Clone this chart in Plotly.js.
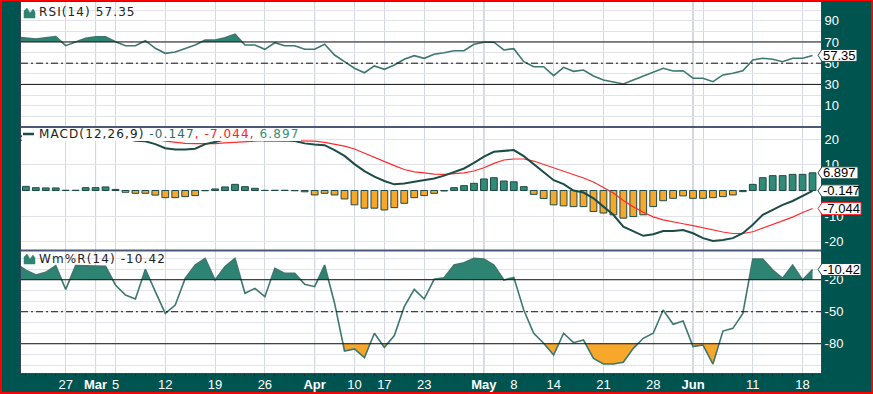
<!DOCTYPE html>
<html><head><meta charset="utf-8">
<script src="https://cdn.plot.ly/plotly-3.0.1.min.js"></script>
<style>
html,body{margin:0;padding:0;background:#005450;}
#wrap{position:relative;width:873px;height:394px;overflow:hidden;}
#chart{position:absolute;left:0;top:0;width:873px;height:394px;}
#frame{position:absolute;left:0;top:0;width:873px;height:394px;box-sizing:border-box;border:2px solid #ff0000;border-top-width:1px;pointer-events:none;}
text.annotation-text[style*="DejaVu"]{letter-spacing:1.1px;}
</style></head>
<body><div id="wrap"><div id="chart"></div><div id="frame"></div></div>
<script>
// ---------- data ----------
const dates = ["2012-02-20","2012-02-21","2012-02-22","2012-02-23","2012-02-24",
"2012-02-27","2012-02-28","2012-02-29","2012-03-01","2012-03-02",
"2012-03-05","2012-03-06","2012-03-07","2012-03-08","2012-03-09",
"2012-03-12","2012-03-13","2012-03-14","2012-03-15","2012-03-16",
"2012-03-19","2012-03-20","2012-03-21","2012-03-22","2012-03-23",
"2012-03-26","2012-03-27","2012-03-28","2012-03-29","2012-03-30",
"2012-04-02","2012-04-03","2012-04-04","2012-04-05",
"2012-04-10","2012-04-11","2012-04-12",
"2012-04-17","2012-04-18","2012-04-19","2012-04-20",
"2012-04-23","2012-04-24","2012-04-25","2012-04-26","2012-04-27",
"2012-04-30","2012-05-01","2012-05-02","2012-05-03",
"2012-05-08","2012-05-09","2012-05-10","2012-05-11",
"2012-05-14","2012-05-15","2012-05-16","2012-05-17","2012-05-18",
"2012-05-21","2012-05-22","2012-05-23","2012-05-24","2012-05-25",
"2012-05-28","2012-05-29","2012-05-30","2012-05-31","2012-06-01",
"2012-06-04","2012-06-05","2012-06-06","2012-06-07","2012-06-08",
"2012-06-11","2012-06-12","2012-06-13","2012-06-14","2012-06-15",
"2012-06-18","2012-06-19"];

const rsi = [74.5,73.8,72.8,74,75,66.5,70.3,73.5,75,75,
70.3,66.5,66.5,71.2,64,59.3,60.6,63.7,67.2,71.9,
71.9,74,77.3,67.2,67.2,63.1,69.3,66.5,66.5,63.1,
63.1,67.8,57.7,51.4,45.2,41,47.4,44.2,48.3,53.7,
57.1,54.6,58.4,59.9,61.8,61.8,67.8,69.8,69.8,62.5,
63.7,51.4,46.7,46.7,38.2,46.1,42.3,43.6,37.9,34.2,
32.6,30.4,34.2,37.9,41,45.2,42.6,42.9,35.8,35.8,
32.6,38.9,40.5,42.9,53,54.6,53.7,51.4,54.6,54.6,57.35];

const macd = [21.1,21.2,20.9,20.9,21.1,20.3,20.3,21.4,21.6,22.1,
21.2,20.0,19.4,19.2,18.1,16.5,16.0,16.0,16.3,18.1,
18.9,20.0,21.3,20.7,20.25,19.5,19.6,19.6,19.3,18.4,
18.0,17.7,15.8,13.5,10.3,7.6,5.4,3.7,2.4,2.7,
3.4,4.1,4.7,5.8,7.3,8.6,10.8,13.2,15.1,15.5,
15.8,13.4,10.2,7.3,4.0,2.5,0.0,-0.8,-3.05,-6.3,
-9.5,-14.1,-16.0,-17.7,-17.1,-15.8,-15.8,-15.4,-16.7,-18.6,
-19.7,-19.3,-18.6,-16.7,-13.4,-9.5,-7.6,-5.6,-4.1,-2.1,-0.147];

const signal = [19.5,19.6,19.8,19.9,20.1,20.2,20.2,20.3,20.5,20.7,
20.8,20.7,20.5,20.3,19.9,19.3,18.8,18.4,18.3,18.2,
18.3,18.6,18.9,19.2,19.4,19.5,19.5,19.5,19.4,19.3,
19.3,18.8,18.0,17.3,16.2,14.5,12.8,11.2,9.7,8.2,
7.3,6.9,6.4,6.3,6.6,6.9,7.6,8.9,10.6,11.9,
12.3,12.3,11.5,10.2,9.0,7.6,6.1,4.9,3.3,1.0,
-1.0,-3.9,-6.4,-8.5,-10.3,-11.5,-12.4,-13.0,-13.7,-14.5,
-15.5,-16.2,-16.8,-16.8,-16.1,-14.7,-13.4,-11.8,-10.4,-8.6,-7.044];

const hist = [1.6,1.6,1.1,1.0,1.0,0.1,0.1,1.1,1.1,1.4,
0.4,-0.7,-1.1,-1.1,-1.8,-2.8,-2.8,-2.4,-2.0,-0.1,
0.6,1.4,2.4,1.5,0.85,0.05,0.1,0.1,-0.1,-0.5,
-1.75,-1.1,-1.75,-3.3,-5.6,-6.9,-6.9,-7.6,-6.7,-5.0,
-2.8,-2.0,-1.1,-0.2,1.1,1.9,2.8,4.5,5.0,3.7,
3.4,1.5,-1.5,-3.1,-5.6,-6.0,-6.3,-6.3,-8.2,-8.8,
-9.5,-10.8,-10.2,-9.5,-6.3,-4.0,-3.05,-2.1,-3.05,-3.05,
-2.8,-2.4,-1.75,-0.45,2.4,5.0,5.8,5.8,6.3,6.3,6.897];

const willr = [-5,-11,-15.6,-13.1,-6.8,-29,-6.8,-6.8,-6.8,-7.5,
-24.9,-34.3,-38.1,-10.2,-31.2,-51.5,-43.7,-18.7,-6.2,0,
-20.25,-7.75,0,-32.7,-28.1,-35.9,-9.3,-14,-14,-24.3,
-26.5,-6.2,-42,-86.8,-84.9,-93,-70.2,-83.4,-72.4,-45.2,
-29,-38.1,-19.6,-18.1,-6.2,-4,0,-0.6,-6.2,-20.25,
-17.8,-48.4,-70.2,-79.6,-90.6,-70.2,-79,-76.5,-93.7,-99,
-99,-97.4,-84.3,-74.9,-70.2,-48.4,-61.8,-58.7,-82.7,-81.2,
-99,-68.1,-65.6,-51.5,-0.6,-0.6,-10.9,-18.7,-6.2,-20.25,-10.42];

const tickDates = ["2012-02-27","2012-03-01","2012-03-05","2012-03-12","2012-03-19","2012-03-26",
"2012-04-02","2012-04-10","2012-04-17","2012-04-23","2012-04-30","2012-05-01","2012-05-08",
"2012-05-14","2012-05-21","2012-05-28","2012-06-01","2012-06-04","2012-06-11","2012-06-18"];
const tickLabels = ["27","<b>Mar</b>","5","12","19","26","<b>Apr</b>","10","17","23","",
"<b>May</b>","8","14","21","28","<b>Jun</b>","","11","18"];
const monthDates = ["2012-03-01","2012-04-02","2012-05-01","2012-06-01"];

const rsiTicks = [0,10,20,30,40,50,60,70,80,90,100];
const rsiTickText = ["","10","","30","","50","","70","","90",""];
const macdTicks = [-20,-10,0,10,20];
const macdTickText = ["-20","-10","","10","20"];
const wrTicks = [-100,-90,-80,-70,-60,-50,-40,-30,-20,-10,0];
const wrTickText = ["","","-80","","","-50","","","-20","",""];

const rsiLevels = [70,30], rsiMid = 50;
const wrLevels = [-20,-80], wrMid = -50;

const rsiName = "RSI(14)", macdName = "MACD(12,26,9)", wrName = "Wm%R(14)";

// ---------- styling ----------
const TEAL_BG = "#005450", FILL_UP = "#2e8473", FILL_DN = "#f7a82b",
      LINE = "#3d7770", MACD_C = "#1d4c47", SIG_C = "#ff2b2b",
      BAR_UP = "#2f8a77", BAR_DN = "#f7a82b", BAR_EDGE = "#1d4a45",
      GRID = "#e2e3ea", VGRID = "#d4d7e5", MGRID = "#a7aec6", FRAME = "#38435f";

const L=21, T=2, W=800, H=371;
const px = x => (x-L)/W, py = y => (T+H-y)/H;

const xi = dates.map((d,i)=>i);
const last = dates.length-1;

function band(xs, ys, thr, above){
  const X=[],Y=[];
  for(let i=0;i<ys.length;i++){
    if(i>0){
      const a=ys[i-1]-thr, b=ys[i]-thr;
      if(a*b<0){ const t=a/(a-b); X.push(xs[i-1]+t*(xs[i]-xs[i-1])); Y.push(thr); }
    }
    X.push(xs[i]); Y.push(above?Math.max(ys[i],thr):Math.min(ys[i],thr));
  }
  return {X,Y};
}
function fillTraces(ys, thr, above, color, xa, ya){
  const b = band(xi, ys, thr, above);
  return [
    {x:b.X, y:b.X.map(()=>thr), mode:'lines', line:{width:0}, xaxis:xa, yaxis:ya, hoverinfo:'skip', showlegend:false},
    {x:b.X, y:b.Y, mode:'lines', line:{width:0}, fill:'tonexty', fillcolor:color, xaxis:xa, yaxis:ya, hoverinfo:'skip', showlegend:false}
  ];
}

const traces = [];
traces.push(...fillTraces(rsi, rsiLevels[0], true, FILL_UP, 'x','y'));
traces.push(...fillTraces(rsi, rsiLevels[1], false, FILL_DN, 'x','y'));
traces.push({x:xi, y:rsi, mode:'lines', line:{color:LINE, width:1.6}, xaxis:'x', yaxis:'y', showlegend:false});

traces.push({type:'bar', x:xi, y:hist, width:0.68, xaxis:'x2', yaxis:'y2', showlegend:false,
  marker:{color:hist.map(v=>v>=0?BAR_UP:BAR_DN), line:{color:BAR_EDGE, width:1}}});
traces.push({x:xi, y:signal, mode:'lines', line:{color:SIG_C, width:1.2}, xaxis:'x2', yaxis:'y2', showlegend:false});
traces.push({x:xi, y:macd, mode:'lines', line:{color:MACD_C, width:2}, xaxis:'x2', yaxis:'y2', showlegend:false});

traces.push(...fillTraces(willr, wrLevels[0], true, FILL_UP, 'x3','y3'));
traces.push(...fillTraces(willr, wrLevels[1], false, FILL_DN, 'x3','y3'));
traces.push({x:xi, y:willr, mode:'lines', line:{color:LINE, width:1.6}, xaxis:'x3', yaxis:'y3', showlegend:false});

const tickIdx = tickDates.map(d=>dates.indexOf(d));
const xrange = [0.51, 80.85];
function xax(anchor, labels){
  const a = {anchor, range:xrange, tickmode:'array', tickvals:tickIdx, ticktext:tickLabels,
    showgrid:true, gridcolor:VGRID, gridwidth:1, zeroline:false, showline:true, mirror:true,
    linecolor:FRAME, linewidth:1, showticklabels:labels,
    ticks: labels?'outside':'', ticklen:2, tickcolor:'#1a2740',
    tickfont:{family:'Liberation Sans, Arial', size:13, color:'#ffffff'}, fixedrange:true};
  if(labels){
    a.minor = {dtick:1, tick0:0, ticks:'outside', ticklen:2, tickcolor:'#1a2740', showgrid:false};
    a.ticklabelstandoff = -3;
  }
  return a;
}
function yax(domain, range, tv, tt){
  return {domain, range, side:'right', tickmode:'array', tickvals:tv, ticktext:tt,
    showgrid:true, gridcolor:GRID, gridwidth:1, zeroline:false, showline:true, mirror:true,
    linecolor:FRAME, linewidth:1, ticks:'', tickfont:{family:'Liberation Sans, Arial', size:13, color:'#ffffff'},
    fixedrange:true};
}

const shapes = [];
monthDates.forEach(d=>{
  const i = dates.indexOf(d);
  shapes.push({type:'line', xref:'x', yref:'paper', x0:i, x1:i, y0:0, y1:1, line:{color:MGRID, width:1}, layer:'below'});
});
function level(ya, v, dashed){
  shapes.push({type:'line', xref:'paper', x0:0, x1:1, yref:ya, y0:v, y1:v,
    line:{color:'#111', width:1, dash: dashed?'7px,3px,2px,3px':'solid'}, layer:'above'});
}
rsiLevels.forEach(v=>level('y',v,false)); level('y',rsiMid,true);
wrLevels.forEach(v=>level('y3',v,false)); level('y3',wrMid,true);

// panel separators
[py(127), py(250.5)].forEach(y=>{
  shapes.push({type:'line', xref:'paper', yref:'paper', x0:0, x1:1, y0:y, y1:y, line:{color:'#4b5878', width:2}, layer:'above'});
});

// MACD legend white box
shapes.push({type:'rect', xref:'paper', yref:'paper', x0:px(22), x1:px(301), y0:py(141), y1:py(128.5),
  fillcolor:'#ffffff', line:{width:0}, layer:'above'});
// icons
function mountain(top){
  const p = (x,y)=>`${px(x)},${py(y)}`;
  return `M${p(24,top+10)} L${p(24,top+3)} L${p(27,top)} L${p(30,top+5)} L${p(33,top+1)} L${p(35,top+4)} L${p(35,top+10)} Z`;
}
shapes.push({type:'path', xref:'paper', yref:'paper', path:mountain(8), fillcolor:FILL_UP, line:{color:FILL_UP,width:0.5}, layer:'above'});
shapes.push({type:'path', xref:'paper', yref:'paper', path:mountain(254), fillcolor:FILL_UP, line:{color:FILL_UP,width:0.5}, layer:'above'});
shapes.push({type:'line', xref:'paper', yref:'paper', x0:px(23), x1:px(34), y0:py(134), y1:py(134), line:{color:MACD_C,width:2.5}, layer:'above'});

// value tags
const tags = [
  {ya:'y', v:rsi[last], w:36, c:MACD_C},
  {ya:'y2', v:hist[last], w:37, c:MACD_C},
  {ya:'y2', v:macd[last], w:38, c:MACD_C},
  {ya:'y2', v:signal[last], w:40, c:SIG_C},
  {ya:'y3', v:willr[last], w:40, c:MACD_C}
];
const annotations = [];
tags.forEach(t=>{
  shapes.push({type:'path', xref:'paper', yref:t.ya, xsizemode:'pixel', ysizemode:'pixel', xanchor:1, yanchor:t.v,
    path:`M-3,0 L1,-6 L${t.w},-6 L${t.w},6 L1,6 Z`, fillcolor:'#ffffff', line:{color:t.c, width:1}, layer:'above'});
  annotations.push({xref:'paper', x:1, xshift:1, xanchor:'left', yref:t.ya, y:t.v, yanchor:'middle',
    text:String(t.v), showarrow:false, borderpad:0, font:{family:'Liberation Sans, Arial', size:13, color:'#000'}});
});
const legFont = {family:'DejaVu Sans', size:12, color:'#222'};
annotations.push({xref:'paper', yref:'paper', x:px(38), y:py(12.5), xanchor:'left', yanchor:'middle', showarrow:false,
  text:`${rsiName} ${rsi[last]}`, font:legFont, borderpad:0});
annotations.push({xref:'paper', yref:'paper', x:px(38), y:py(134), xanchor:'left', yanchor:'middle', showarrow:false,
  text:`${macdName} <span style="color:#2b6d66">${macd[last]}</span><span style="color:#ff2020">, ${signal[last]},</span> <span style="color:#359079">${hist[last]}</span>`,
  font:legFont, borderpad:0});
annotations.push({xref:'paper', yref:'paper', x:px(38), y:py(259), xanchor:'left', yanchor:'middle', showarrow:false,
  text:`${wrName} ${willr[last]}`, font:legFont, borderpad:0});

const layout = {
  width:873, height:394, margin:{l:L, r:52, t:T, b:21, pad:0},
  paper_bgcolor:TEAL_BG, plot_bgcolor:'#ffffff', showlegend:false, bargap:0,
  xaxis: xax('y', false), xaxis2: xax('y2', false), xaxis3: xax('y3', true),
  yaxis: yax([0.66442,1], [-9.7,107.7], rsiTicks, rsiTickText),
  yaxis2: yax([0.33154,0.66173], [-23.24,24.6], macdTicks, macdTickText),
  yaxis3: yax([0,0.32884], [-107.43,6.94], wrTicks, wrTickText),
  shapes, annotations
};
layout.xaxis2.matches = 'x'; layout.xaxis3.matches = 'x';
Plotly.newPlot('chart', traces, layout, {staticPlot:true, displayModeBar:false});
</script></body></html>
